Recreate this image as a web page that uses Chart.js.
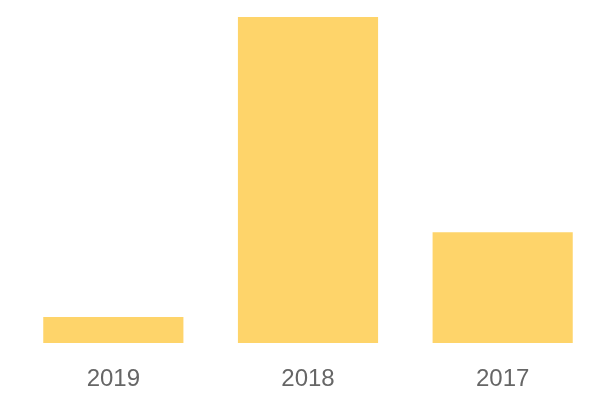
<!DOCTYPE html>
<html>
<head>
<meta charset="utf-8">
<script src="https://cdn.jsdelivr.net/npm/chart.js@4"></script>
<style>
  html, body { margin: 0; padding: 0; background: #fff; }
  #wrap { width: 600px; height: 400px; }
</style>
</head>
<body>
<div id="wrap"><canvas id="chart"></canvas></div>
<script>
// categories and values
const years = ['2019', '2018', '2017'];
const counts = [8, 100, 34];

const ctx = document.getElementById('chart').getContext('2d');

new Chart(ctx, {
  type: 'bar',
  data: {
    labels: years,
    datasets: [{
      data: counts,
      backgroundColor: '#fed46a'
    }]
  },
  options: {
    responsive: true,
    maintainAspectRatio: false,
    animation: false,
    layout: { padding: { left: 16, right: 0, top: 17, bottom: 0 } },
    plugins: {
      legend: { display: false },
      tooltip: { enabled: false }
    },
    scales: {
      x: {
        grid: { display: false, drawTicks: false },
        border: { display: false },
        ticks: {
          color: '#666',
          padding: 22,
          font: { family: 'Liberation Sans, Arial, sans-serif', size: 24 }
        },
        // keep the label strip the same height as in the picture
        afterFit: scale => { scale.height = 57; }
      },
      y: {
        display: false,
        min: 0,
        max: 100
      }
    }
  }
});
</script>
</body>
</html>
